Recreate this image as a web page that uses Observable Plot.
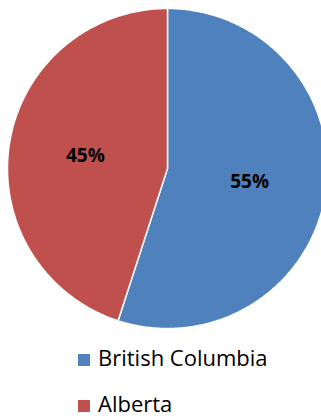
<!DOCTYPE html>
<html>
<head>
<meta charset="utf-8">
<script src="https://cdn.jsdelivr.net/npm/d3@7"></script>
<script src="https://cdn.jsdelivr.net/npm/@observablehq/plot@0.6"></script>
<style>
  html, body { margin: 0; padding: 0; background: #fff; }
  #chart { width: 321px; height: 418px; overflow: hidden; position: relative; }
  #chart svg { display: block; }
  .legend { position: absolute; left: 78px; top: 346px; font-family: "Open Sans", sans-serif; font-size: 22px; line-height: 22px; color: #000; }
  .item { position: relative; height: 46px; padding-left: 20px; white-space: nowrap; }
  .sw { position: absolute; left: 0; top: 8px; width: 12px; height: 12px; }
</style>
</head>
<body>
<div id="chart"></div>
<script>
const categories = ["British Columbia", "Alberta"];
const values = [55, 45];
const labels = ["55%", "45%"];
const colors = ["#4F81BD", "#C0504D"];

const pie = d3.pie().sort(null).value(d => d.value);
const arcs = pie(categories.map((c, i) => ({name: c, value: values[i], label: labels[i]})));

// outline points of each slice in unit-circle data space (angle clockwise from top)
const outline = [];
for (const a of arcs) {
  outline.push({name: a.data.name, x: 0, y: 0});
  const steps = Math.max(2, Math.ceil((a.endAngle - a.startAngle) / (Math.PI / 360)));
  for (let k = 0; k <= steps; k++) {
    const t = a.startAngle + (a.endAngle - a.startAngle) * k / steps;
    outline.push({name: a.data.name, x: Math.sin(t), y: Math.cos(t)});
  }
  outline.push({name: a.data.name, x: 0, y: 0});
}
const labelPts = arcs.map(a => {
  const m = (a.startAngle + a.endAngle) / 2;
  const r = 0.52;
  return {name: a.data.name, label: a.data.label, x: r * Math.sin(m), y: r * Math.cos(m)};
});

const plot = Plot.plot({
  width: 321,
  height: 340,
  margin: 0,
  x: {domain: [-1, 1], range: [7, 327], axis: null},
  y: {domain: [-1, 1], range: [328, 8], axis: null},
  color: {domain: categories, range: colors},
  marks: [
    Plot.line(outline, {x: "x", y: "y", z: "name", fill: "name", stroke: "white", strokeWidth: 1.5, strokeLinejoin: "miter"}),
    Plot.text(labelPts, {x: "x", y: "y", text: "label", fontSize: 19, fontWeight: "bold", fill: "black", fontFamily: "Open Sans"})
  ]
});
const root = document.getElementById("chart");
root.appendChild(plot);

const legend = document.createElement("div");
legend.className = "legend";
categories.forEach((c, i) => {
  const it = document.createElement("div");
  it.className = "item";
  const sw = document.createElement("span");
  sw.className = "sw";
  sw.style.background = colors[i];
  const tx = document.createElement("span");
  tx.textContent = c;
  it.appendChild(sw);
  it.appendChild(tx);
  legend.appendChild(it);
});
root.appendChild(legend);
</script>
</body>
</html>
